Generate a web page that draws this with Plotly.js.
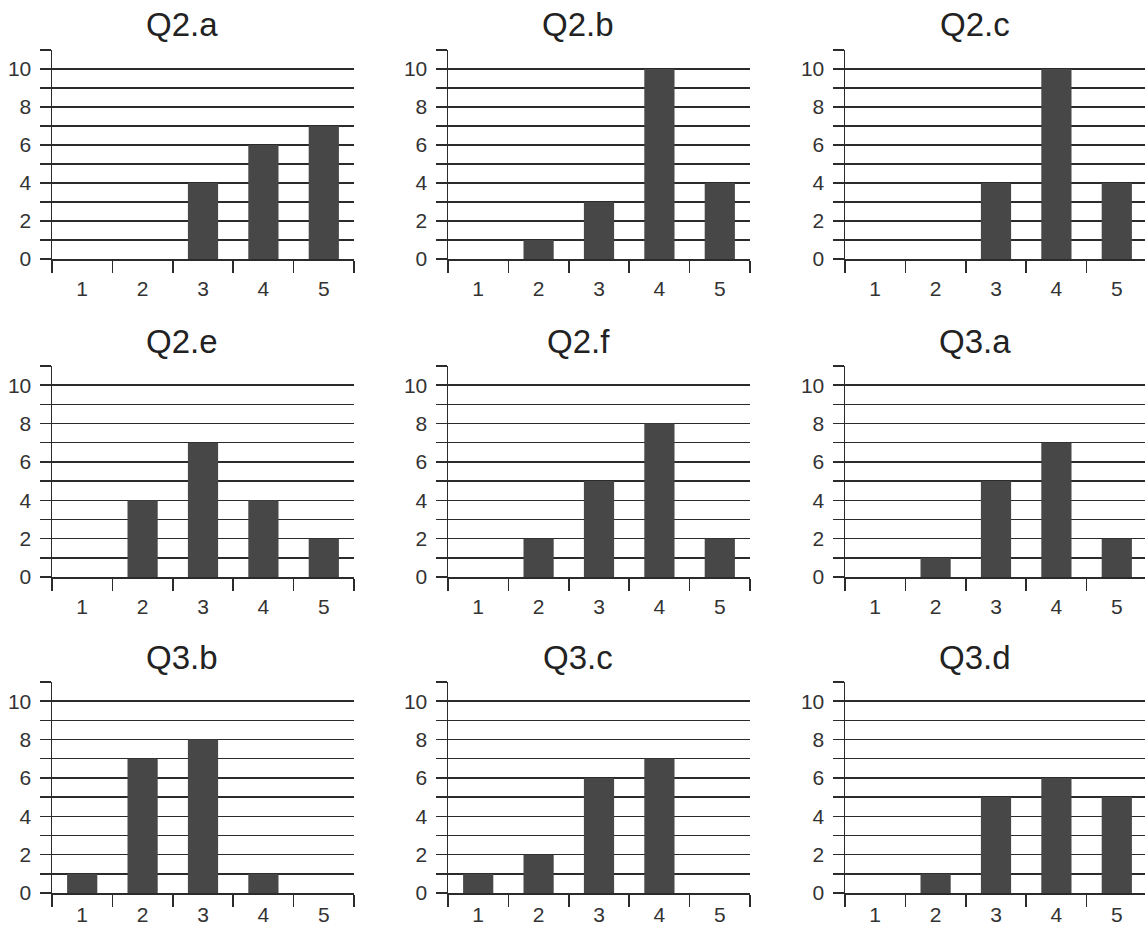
<!DOCTYPE html>
<html>
<head>
<meta charset="utf-8">
<script src="https://cdn.plot.ly/plotly-3.0.1.min.js"></script>
<style>
html,body{margin:0;padding:0;overflow:hidden;background:#fff;}
#chart{width:1160px;height:934px;}
</style>
</head>
<body>
<div id="chart"></div>
<script>
// Data
const categories = ['1','2','3','4','5'];
const panelTitles = ['Q2.a','Q2.b','Q2.c','Q2.e','Q2.f','Q3.a','Q3.b','Q3.c','Q3.d'];
const q2a = [0,0,4,6,7];
const q2b = [0,1,3,10,4];
const q2c = [0,0,4,10,4];
const q2e = [0,4,7,4,2];
const q2f = [0,2,5,8,2];
const q3a = [0,1,5,7,2];
const q3b = [1,7,8,1,0];
const q3c = [1,2,6,7,0];
const q3d = [0,1,5,6,5];
const yTickVals = [0,1,2,3,4,5,6,7,8,9,10,11];
const yTickText = ['0','','2','','4','','6','','8','','10',''];

const seriesList = [q2a,q2b,q2c,q2e,q2f,q3a,q3b,q3c,q3d];

const W = 1160, H = 934;
const colLeft = [52, 448, 845];
const plotW = 302;
const rowTop = [50, 366, 682];
const rowZero = [259, 577, 893];
const rowStandoff = [10, 10, 2];

const font = 'Liberation Sans, Arial, Helvetica, sans-serif';
const lineCol = '#2b2b2b';

const data = [];
const layout = {
  width: W, height: H,
  margin: {l:0, r:0, t:0, b:0},
  paper_bgcolor: '#fff', plot_bgcolor: '#fff',
  showlegend: false,
  bargap: 0.5,
  font: {family: font, color: '#333'},
  annotations: []
};

for (let i = 0; i < 9; i++) {
  const r = Math.floor(i / 3), c = i % 3;
  const n = i + 1;
  const xa = 'x' + (n === 1 ? '' : n);
  const ya = 'y' + (n === 1 ? '' : n);
  data.push({
    type: 'bar', x: categories, y: seriesList[i],
    xaxis: xa, yaxis: ya,
    marker: {color: '#474747', line: {width: 0}},
    hoverinfo: 'x+y'
  });
  const xd = [colLeft[c] / W, (colLeft[c] + plotW) / W];
  const yd = [(H - rowZero[r]) / H, (H - rowTop[r]) / H];
  layout['xaxis' + (n === 1 ? '' : n)] = {
    domain: xd, anchor: ya, type: 'category',
    range: [-0.5, 4.5],
    tickson: 'boundaries', ticks: 'outside', ticklen: 12, tickwidth: 1.5, tickcolor: lineCol,
    showline: true, linecolor: lineCol, linewidth: 1.5,
    showgrid: false, zeroline: false,
    ticklabelstandoff: rowStandoff[r],
    tickfont: {size: 21, family: font, color: '#333'},
    fixedrange: true
  };
  layout['yaxis' + (n === 1 ? '' : n)] = {
    domain: yd, anchor: xa,
    range: [0, 11],
    tickmode: 'array', tickvals: yTickVals, ticktext: yTickText,
    ticks: 'outside', ticklen: 11, tickwidth: 1.5, tickcolor: lineCol,
    showline: true, linecolor: lineCol, linewidth: 1.5,
    showgrid: true, gridcolor: lineCol, gridwidth: 1.5,
    zeroline: false,
    ticklabelstandoff: 4,
    tickfont: {size: 21, family: font, color: '#333'},
    fixedrange: true
  };
  layout.annotations.push({
    text: panelTitles[i], showarrow: false,
    xref: 'paper', yref: 'paper',
    x: (colLeft[c] + 130) / W, y: (H - (rowTop[r] - 25)) / H,
    xanchor: 'center', yanchor: 'middle',
    font: {size: 33, family: font, color: '#222'}
  });
}

Plotly.newPlot('chart', data, layout, {displayModeBar: false, staticPlot: true});
</script>
</body>
</html>
